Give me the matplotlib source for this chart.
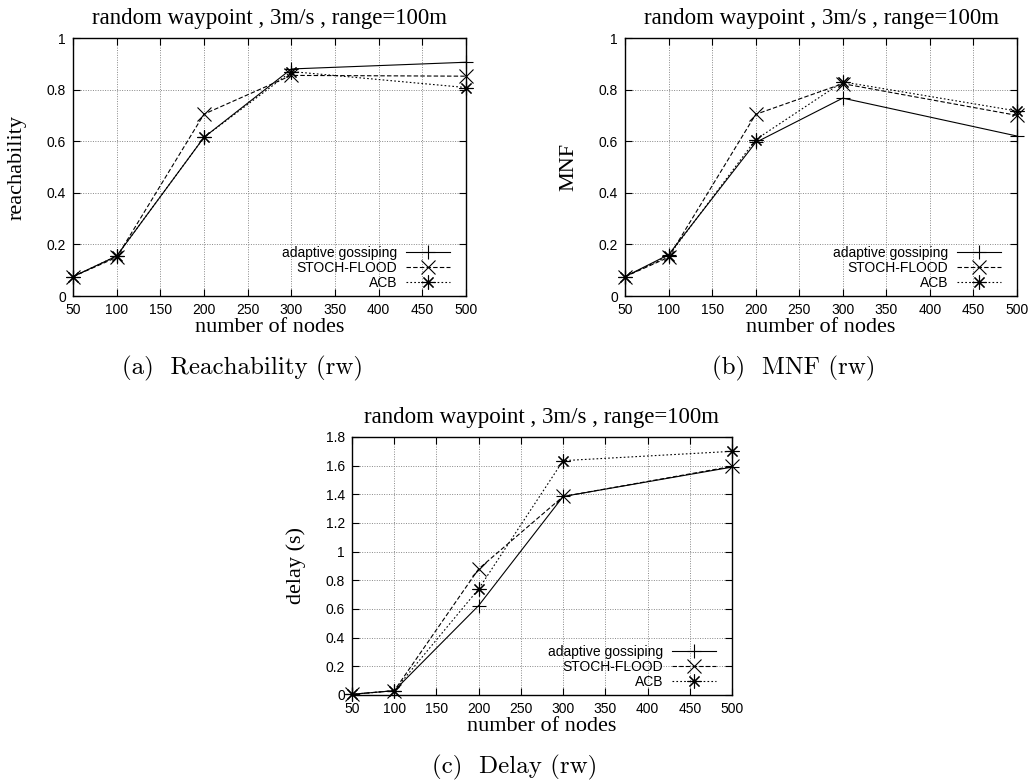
import numpy as np
import matplotlib
matplotlib.use("Agg")
import matplotlib.pyplot as plt
from matplotlib.ticker import FormatStrFormatter, MultipleLocator

nodes = [50, 100, 200, 300, 500]
series_names = ["adaptive gossiping", "STOCH-FLOOD", "ACB"]

reach_adaptive = [0.075, 0.155, 0.615, 0.880, 0.906]
reach_stoch = [0.075, 0.150, 0.705, 0.855, 0.852]
reach_acb = [0.075, 0.155, 0.615, 0.870, 0.808]

mnf_adaptive = [0.075, 0.160, 0.595, 0.767, 0.620]
mnf_stoch = [0.075, 0.150, 0.704, 0.823, 0.700]
mnf_acb = [0.075, 0.155, 0.606, 0.830, 0.717]

delay_adaptive = [0.005, 0.030, 0.624, 1.385, 1.590]
delay_stoch = [0.005, 0.030, 0.880, 1.385, 1.595]
delay_acb = [0.005, 0.030, 0.740, 1.635, 1.700]

title = "random waypoint , 3m/s , range=100m"
xlabel = "number of nodes"

styles = [
    dict(linestyle="-", marker="+"),
    dict(linestyle=(0, (4, 2)), marker="x"),
    dict(linestyle=(0, (1.5, 2)), marker=(8, 2, 0)),
]

W, H = 1034, 782
fig = plt.figure(figsize=(W / 100, H / 100), dpi=100)


def px_axes(left, top, right, bottom):
    return fig.add_axes([left / W, 1 - bottom / H, (right - left) / W, (bottom - top) / H])


def panel(ax, data, ylabel, ymax, ystep):
    for vals, name, st in zip(data, series_names, styles):
        ax.plot(nodes, vals, color="black", linewidth=0.8, markersize=10,
                markeredgewidth=0.8, label=name, clip_on=False, **st)
    ax.set_xlim(50, 500)
    ax.set_ylim(0, ymax)
    ax.xaxis.set_major_locator(MultipleLocator(50))
    ax.yaxis.set_major_locator(MultipleLocator(ystep))
    ax.yaxis.set_major_formatter(FormatStrFormatter("%g"))
    ax.grid(True, color="#888888", linestyle=(0, (1, 1.5)), linewidth=0.7)
    ax.tick_params(direction="in", top=True, right=True, length=5, width=0.8,
                   labelsize=10, pad=5)
    for lab in ax.get_xticklabels() + ax.get_yticklabels():
        lab.set_family("Liberation Sans")
    for sp in ax.spines.values():
        sp.set_linewidth(1.0)
    ax.set_title(title, family="Liberation Serif", fontsize=16.5, pad=10)
    ax.set_xlabel(xlabel, family="Liberation Serif", fontsize=16, labelpad=1)
    ax.set_ylabel(ylabel, family="Liberation Serif", fontsize=16, va="center")
    w = ax.get_position().width * W
    ax.yaxis.set_label_coords(-56 / w, 0.5)
    hx = 1 - 16 / w
    leg = ax.legend(loc="lower right", bbox_to_anchor=(hx, 0.022), frameon=False,
                    markerfirst=False, handlelength=3.2, borderaxespad=0,
                    borderpad=0, labelspacing=0.1, handletextpad=0.6,
                    prop={"family": "Liberation Sans", "size": 10})
    return leg


ax_a = px_axes(73, 38, 466, 296)
panel(ax_a, [reach_adaptive, reach_stoch, reach_acb], "reachability", 1, 0.2)

ax_b = px_axes(625, 38, 1017, 296)
panel(ax_b, [mnf_adaptive, mnf_stoch, mnf_acb], "MNF", 1, 0.2)

ax_c = px_axes(352, 437, 732, 695)
panel(ax_c, [delay_adaptive, delay_stoch, delay_acb], "delay (s)", 1.8, 0.2)

cap = dict(family="cmr10", fontsize=18, ha="center", va="center")
fig.text(242 / W, 1 - 368 / H, "(a)  Reachability (rw)", **cap)
fig.text(794 / W, 1 - 368 / H, "(b)  MNF (rw)", **cap)
fig.text(515 / W, 1 - 767 / H, "(c)  Delay (rw)", **cap)

fig.savefig("out.png", dpi=100)
